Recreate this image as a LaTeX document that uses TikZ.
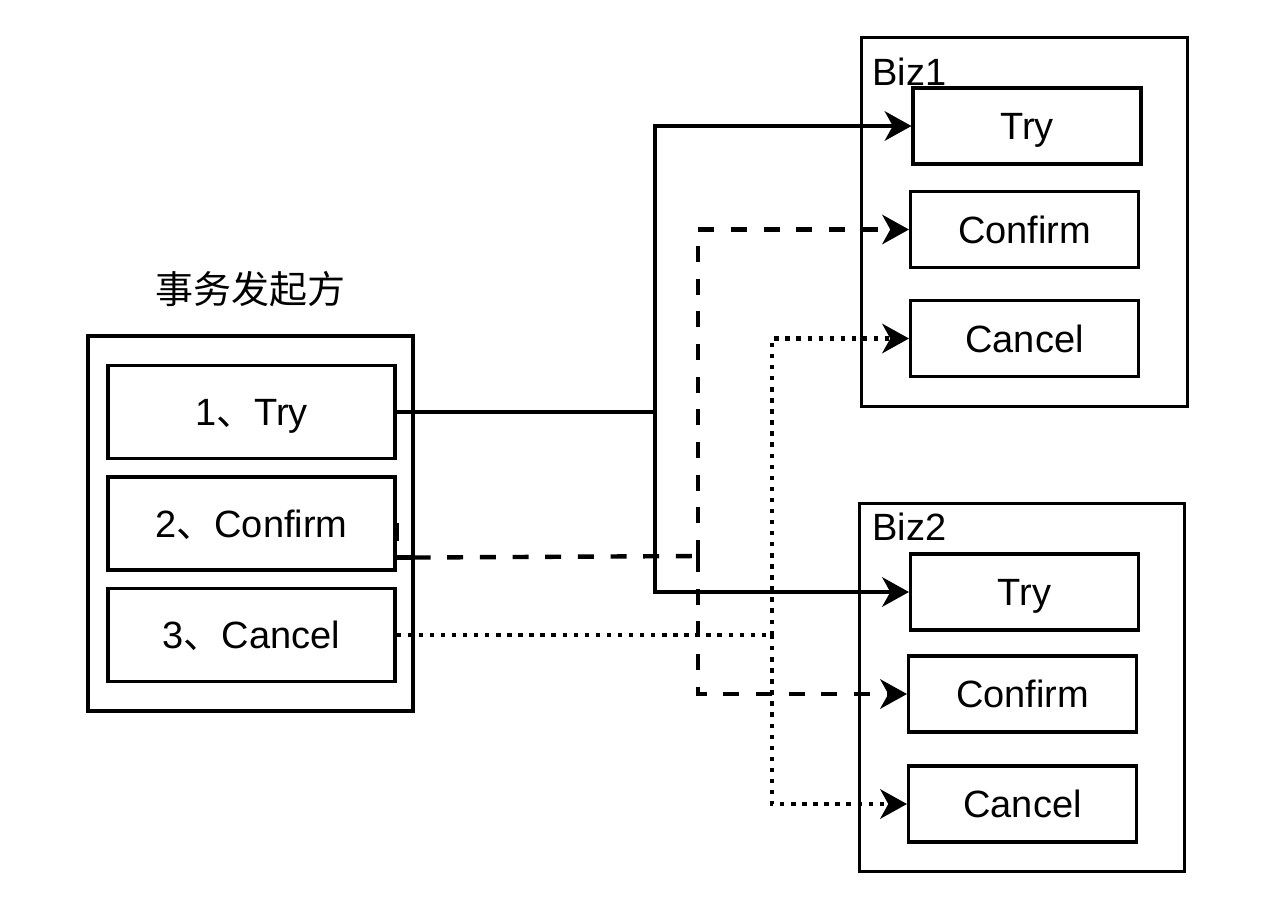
\documentclass[tikz,border=0pt]{standalone}
\usepackage{fontspec}
\setmainfont{Liberation Sans}
\newfontfamily\cjk{Noto Sans CJK SC}
\usetikzlibrary{arrows.meta,calc}
\begin{document}
\begin{tikzpicture}[x=0.75pt,y=-0.75pt,
  every node/.style={font=\fontsize{28.5}{34}\selectfont, inner sep=0pt},
  frame/.style={draw, line width=2.3pt, anchor=center},
  lbl/.style={text height=20.4pt, text depth=0pt},
  leftbox/.style={frame, lbl, minimum width=215.25pt, minimum height=69.75pt},
  bizbox/.style={frame, lbl, minimum width=171pt, minimum height=57pt},
  outerbox/.style={frame, minimum width=244pt, minimum height=276.5pt},
  conn/.style={line width=3.3pt, line cap=butt, line join=miter,
    -{Stealth[length=20pt, width=22pt, inset=6pt]}},
  plain/.style={line width=3.3pt, line cap=butt, line join=miter},
  dashline/.style={dash pattern=on 12pt off 12.5pt},
  dotline/.style={dash pattern=on 3.3pt off 5pt}
]
\useasboundingbox[fill=white] (0,0) rectangle (1280,922);

% left group
\node[frame, minimum width=243.75pt, minimum height=281.25pt] (lout) at (250.5,523.5) {};
\node (ltitle) at (250,289) {\cjk 事务发起方};
\node[leftbox] (ltry) at (251.5,412) {1{\cjk 、}Try};
\node[leftbox] (lconf) at (251.5,523.5) {2{\cjk 、}Confirm};
\node[leftbox] (lcanc) at (251.5,635) {3{\cjk 、}Cancel};

% Biz1
\node[outerbox] (b1) at (1024.5,222) {};
\node[anchor=base west] (b1lab) at (872,85) {Biz1};
\node[bizbox] (b1try) at (1027,126) {Try};
\node[bizbox] (b1conf) at (1024.5,229.5) {Confirm};
\node[bizbox] (b1canc) at (1024.5,338.5) {Cancel};

% Biz2
\node[outerbox] (b2) at (1022,687.5) {};
\node[anchor=base west] (b2lab) at (872,540) {Biz2};
\node[bizbox] (b2try) at (1024.5,592) {Try};
\node[bizbox] (b2conf) at (1022.5,694) {Confirm};
\node[bizbox] (b2canc) at (1022.5,804) {Cancel};

% junction points
\coordinate (jt) at (655,412);
\coordinate (cs) at ($(lconf.south east)+(0,-14)$);
\coordinate (jc) at (698,556);
\coordinate (jk) at (772,635);

% Try (solid)
\draw[plain] (ltry.east) -- (jt);
\draw[conn] (jt) |- (b1try.west);
\draw[conn] (jt) |- (b2try.west);

% Confirm (dashed)
\draw[plain, line width=2.3pt] ($(lconf.east)+(1,-1)$) -- ($(lconf.east)+(1,17)$);
\draw[plain] (cs) -- ($(cs)+(18,0)$);
\draw[plain, dashline] ($(cs)+(18,0)$) -- (jc);
\draw[conn, dashline] (jc) |- (b1conf.west);
\draw[conn, dashline] (jc) |- (b2conf.west);

% Cancel (dotted)
\draw[plain, dotline] (lcanc.east) -- (jk);
\draw[conn, dotline] (jk) |- (b1canc.west);
\draw[conn, dotline] (jk) |- (b2canc.west);
\end{tikzpicture}
\end{document}
